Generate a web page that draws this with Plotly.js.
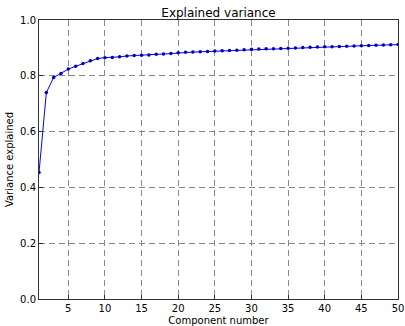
<!DOCTYPE html>
<html><head><meta charset="utf-8">
<script src="https://cdn.plot.ly/plotly-3.0.1.min.js"></script>
<style>html,body{margin:0;padding:0;background:#fff}</style>
</head><body><div id="chart" style="width:405px;height:326px"></div>
<script>
const components = [1,2,3,4,5,6,7,8,9,10,11,12,13,14,15,16,17,18,19,20,21,22,23,24,25,26,27,28,29,30,31,32,33,34,35,36,37,38,39,40,41,42,43,44,45,46,47,48,49,50];
const varianceExplained = [0.453,0.740,0.794,0.808,0.824,0.834,0.844,0.854,0.862,0.865,0.866,0.868,0.871,0.873,0.874,0.875,0.877,0.878,0.880,0.883,0.884,0.885,0.886,0.887,0.889,0.890,0.891,0.892,0.893,0.895,0.896,0.897,0.897,0.898,0.899,0.900,0.901,0.902,0.903,0.904,0.9045,0.905,0.906,0.907,0.908,0.909,0.9095,0.910,0.911,0.912];
const xTicks = [5,10,15,20,25,30,35,40,45,50];
const yTicks = [0,0.2,0.4,0.6,0.8,1.0];

const font = {family:'DejaVu Sans, sans-serif', size:10, color:'#000'};
Plotly.newPlot('chart', [{
  x: components, y: varianceExplained, type:'scatter', mode:'lines+markers',
  line:{color:'#0000ff', width:1},
  marker:{color:'#0000bf', size:3.5, line:{width:0}}
}], {
  width:405, height:326,
  margin:{l:39, r:7, t:20, b:27, pad:0},
  paper_bgcolor:'#fff', plot_bgcolor:'#fff',
  font: font,
  showlegend:false,
  title:{text:'Explained variance', font:{family:'DejaVu Sans, sans-serif', size:12, color:'#000'}, x:0.5, xref:'paper', xanchor:'center', y:0.962, yanchor:'middle', yref:'container'},
  xaxis:{range:[1,50], tickvals:xTicks, ticktext:xTicks.map(String), showgrid:true, gridcolor:'#888', griddash:'6px,4px', gridwidth:1,
    zeroline:false, showline:true, mirror:true, linecolor:'#333', linewidth:1, ticks:'inside', ticklen:4, tickcolor:'#333',
    title:{text:'Component number', font:{family:'DejaVu Sans, sans-serif', size:10, color:'#000'}, standoff:4}, tickfont:font},
  yaxis:{range:[0,1], tickvals:yTicks, ticktext:yTicks.map(v=>v.toFixed(1)), showgrid:true, gridcolor:'#888', griddash:'6px,4px', gridwidth:1,
    zeroline:false, showline:true, mirror:true, linecolor:'#333', linewidth:1, ticks:'inside', ticklen:4, tickcolor:'#333',
    title:{text:'Variance explained', font:{family:'DejaVu Sans, sans-serif', size:10, color:'#000'}, standoff:4}, tickfont:font}
}, {displayModeBar:false, staticPlot:true});
</script></body></html>
